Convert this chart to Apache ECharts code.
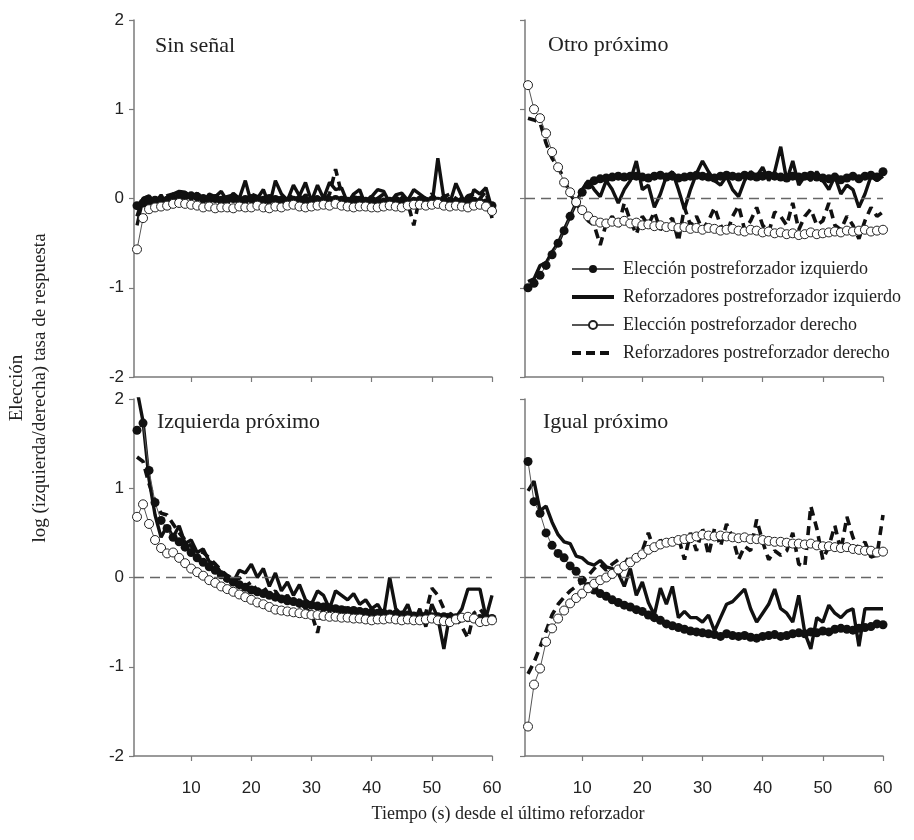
<!DOCTYPE html>
<html><head><meta charset="utf-8">
<script src="https://cdn.jsdelivr.net/npm/echarts@6/dist/echarts.min.js"></script>
<style>html,body{margin:0;padding:0;background:#fff}#c{width:914px;height:840px}</style>
</head><body><div id="c"></div>
<script>
// Time bins (s)
var tiempo = [1,2,3,4,5,6,7,8,9,10,11,12,13,14,15,16,17,18,19,20,21,22,23,24,25,26,27,28,29,30,
31,32,33,34,35,36,37,38,39,40,41,42,43,44,45,46,47,48,49,50,51,52,53,54,55,56,57,58,59,60];
var xTicks = [10,20,30,40,50,60];
var yTicks = [-2,-1,0,1,2];
var panelTitles = ['Sin señal','Otro próximo','Izquierda próximo','Igual próximo'];
var seriesNames = ['Elección postreforzador izquierdo','Reforzadores postreforzador izquierdo','Elección postreforzador derecho','Reforzadores postreforzador derecho'];

// Sin señal
var ss_eI = [-0.08,-0.05,-0.03,-0.02,-0.03,-0.02,0.0,0.02,0.03,0.03,
0.02,0.0,-0.01,0.0,-0.02,-0.01,0.0,-0.02,-0.01,0.0,
-0.01,-0.02,0.0,-0.01,-0.02,-0.03,-0.02,-0.01,-0.02,-0.03,
-0.02,-0.03,-0.02,-0.01,-0.02,-0.03,-0.03,-0.02,-0.03,-0.02,
-0.03,-0.04,-0.03,-0.02,-0.03,-0.04,-0.03,-0.02,-0.03,-0.02,
-0.03,-0.02,-0.03,-0.04,-0.03,-0.02,-0.03,-0.04,-0.05,-0.08];
var ss_rI = [-0.3,0.0,0.03,-0.05,0.04,-0.08,0.05,0.08,0.07,0.02,
0.06,-0.05,0.05,0.02,0.08,-0.03,0.06,0.0,0.2,-0.05,
0.0,0.1,-0.08,0.2,0.05,-0.02,0.15,0.03,0.18,-0.03,
0.15,0.0,0.18,0.1,0.12,-0.05,0.05,0.1,-0.08,0.02,
0.1,0.08,-0.05,0.04,0.06,-0.02,0.1,0.05,0.0,-0.08,
0.45,0.0,-0.05,0.17,0.02,-0.1,0.1,0.05,0.12,-0.12];
var ss_eD = [-0.57,-0.22,-0.12,-0.1,-0.09,-0.08,-0.06,-0.05,-0.06,-0.07,
-0.08,-0.1,-0.09,-0.11,-0.1,-0.1,-0.11,-0.09,-0.1,-0.1,
-0.08,-0.1,-0.11,-0.09,-0.1,-0.08,-0.07,-0.09,-0.1,-0.09,
-0.08,-0.07,-0.08,-0.06,-0.08,-0.09,-0.1,-0.09,-0.09,-0.1,
-0.1,-0.09,-0.08,-0.09,-0.1,-0.08,-0.07,-0.07,-0.08,-0.07,
-0.06,-0.08,-0.09,-0.08,-0.09,-0.1,-0.08,-0.07,-0.09,-0.14];
var ss_rD = [-0.2,0.0,0.02,-0.03,0.0,0.03,0.05,0.02,-0.04,0.0,
0.05,-0.02,0.03,0.0,-0.05,0.02,0.04,-0.03,0.0,0.05,
0.02,-0.04,0.0,0.03,-0.02,0.05,0.0,-0.03,0.04,0.0,
0.02,-0.03,0.05,0.33,0.05,-0.05,0.02,0.0,-0.04,0.03,
0.0,0.05,-0.02,0.0,0.04,-0.05,-0.3,0.02,0.0,0.05,
-0.03,0.02,0.05,0.0,-0.04,0.03,0.05,0.0,0.08,-0.22];

// Otro próximo
var op_eI = [-1.0,-0.95,-0.86,-0.75,-0.63,-0.5,-0.36,-0.2,-0.05,0.07,
0.15,0.2,0.22,0.23,0.24,0.25,0.24,0.25,0.25,0.24,
0.23,0.25,0.26,0.24,0.25,0.23,0.24,0.25,0.26,0.25,
0.24,0.23,0.25,0.26,0.25,0.24,0.26,0.25,0.24,0.25,
0.26,0.25,0.24,0.23,0.25,0.24,0.25,0.26,0.24,0.23,
0.22,0.24,0.21,0.23,0.25,0.22,0.25,0.26,0.24,0.3];
var op_rI = [-0.93,-0.9,-0.75,-0.72,-0.6,-0.5,-0.35,-0.2,-0.05,0.1,
0.2,0.1,0.02,0.2,0.1,-0.05,0.1,0.2,0.42,0.1,
0.15,-0.1,0.05,0.25,0.3,0.1,-0.12,0.1,0.28,0.42,
0.3,0.2,0.15,0.25,0.1,0.02,0.2,0.3,0.25,0.35,
0.2,0.3,0.58,0.2,0.42,0.15,0.25,0.2,0.3,0.2,
0.1,0.25,0.05,0.15,0.1,-0.1,0.05,0.25,0.2,0.25];
var op_eD = [1.27,1.0,0.9,0.73,0.52,0.35,0.18,0.07,-0.04,-0.13,
-0.2,-0.25,-0.27,-0.28,-0.26,-0.27,-0.25,-0.28,-0.27,-0.3,
-0.29,-0.31,-0.3,-0.32,-0.31,-0.33,-0.32,-0.34,-0.33,-0.35,
-0.33,-0.34,-0.36,-0.35,-0.34,-0.36,-0.37,-0.35,-0.36,-0.38,
-0.37,-0.39,-0.38,-0.4,-0.39,-0.41,-0.4,-0.38,-0.4,-0.39,
-0.38,-0.37,-0.38,-0.36,-0.37,-0.36,-0.35,-0.37,-0.36,-0.35];
var op_rD = [0.9,0.88,0.85,0.62,0.45,0.35,0.22,0.05,-0.05,-0.15,
-0.25,-0.3,-0.52,-0.28,-0.2,-0.32,-0.05,-0.25,-0.4,-0.2,
-0.3,-0.15,-0.35,-0.28,-0.22,-0.48,-0.1,-0.3,-0.2,-0.35,
-0.25,-0.1,-0.3,-0.4,-0.2,-0.08,-0.35,-0.25,-0.1,-0.3,
-0.38,-0.15,-0.2,-0.3,-0.05,-0.35,-0.2,-0.12,-0.3,-0.25,
-0.05,-0.3,-0.35,-0.2,-0.3,-0.45,-0.25,-0.1,-0.2,-0.15];

// Izquierda próximo
var iz_eI = [1.65,1.73,1.2,0.84,0.64,0.55,0.45,0.4,0.34,0.28,
0.22,0.17,0.12,0.08,0.03,-0.01,-0.05,-0.08,-0.11,-0.14,
-0.16,-0.18,-0.2,-0.22,-0.24,-0.26,-0.27,-0.29,-0.3,-0.31,
-0.32,-0.33,-0.34,-0.35,-0.36,-0.37,-0.37,-0.38,-0.39,-0.39,
-0.4,-0.4,-0.41,-0.41,-0.42,-0.42,-0.43,-0.43,-0.43,-0.44,
-0.44,-0.44,-0.45,-0.45,-0.45,-0.45,-0.46,-0.46,-0.45,-0.46];
var iz_rI = [2.1,1.75,1.1,0.7,0.45,0.58,0.45,0.58,0.38,0.42,
0.28,0.32,0.18,0.15,0.05,0.02,-0.05,0.08,0.05,0.15,
0.0,0.1,-0.1,0.05,-0.15,-0.05,-0.2,-0.08,-0.25,-0.3,
-0.15,-0.2,-0.35,-0.15,-0.2,-0.25,-0.18,-0.3,-0.25,-0.35,
-0.3,-0.42,0.0,-0.35,-0.42,-0.3,-0.5,-0.35,-0.55,-0.3,
-0.45,-0.8,-0.4,-0.45,-0.35,-0.13,-0.13,-0.13,-0.45,-0.2];
var iz_eD = [0.68,0.82,0.6,0.42,0.33,0.27,0.28,0.22,0.16,0.1,
0.06,0.02,-0.03,-0.06,-0.1,-0.13,-0.16,-0.19,-0.22,-0.25,
-0.28,-0.3,-0.33,-0.36,-0.37,-0.38,-0.39,-0.4,-0.41,-0.42,
-0.42,-0.43,-0.44,-0.44,-0.45,-0.45,-0.46,-0.46,-0.47,-0.48,
-0.47,-0.47,-0.46,-0.47,-0.48,-0.47,-0.48,-0.48,-0.47,-0.46,
-0.48,-0.49,-0.5,-0.47,-0.45,-0.44,-0.46,-0.5,-0.49,-0.48];
var iz_rD = [1.35,1.3,1.05,0.85,0.72,0.7,0.6,0.5,0.42,0.35,
0.3,0.28,0.22,0.15,0.08,0.02,-0.05,0.0,-0.1,-0.05,
-0.15,-0.1,-0.2,-0.15,-0.25,-0.2,-0.3,-0.25,-0.35,-0.4,
-0.62,-0.3,-0.35,-0.4,-0.3,-0.38,-0.42,-0.35,-0.4,-0.45,
-0.38,-0.42,-0.4,-0.45,-0.5,-0.4,-0.45,-0.5,-0.4,-0.12,
-0.2,-0.35,-0.5,-0.45,-0.55,-0.68,-0.4,-0.35,-0.45,-0.5];

// Igual próximo
var ig_eI = [1.3,0.85,0.72,0.5,0.36,0.27,0.22,0.13,0.07,-0.03,
-0.1,-0.14,-0.18,-0.21,-0.25,-0.28,-0.31,-0.33,-0.36,-0.38,
-0.42,-0.45,-0.48,-0.52,-0.54,-0.56,-0.58,-0.6,-0.61,-0.62,
-0.63,-0.64,-0.66,-0.63,-0.65,-0.66,-0.65,-0.67,-0.68,-0.66,
-0.65,-0.64,-0.66,-0.65,-0.63,-0.62,-0.63,-0.61,-0.62,-0.6,
-0.61,-0.58,-0.57,-0.58,-0.59,-0.57,-0.56,-0.55,-0.52,-0.53];
var ig_rI = [0.97,1.08,0.75,0.8,0.62,0.48,0.4,0.38,0.24,0.22,
0.16,0.14,0.19,0.12,0.1,0.05,-0.1,0.1,-0.2,-0.05,
-0.28,-0.42,-0.12,-0.3,-0.1,-0.45,-0.38,-0.45,-0.45,-0.5,
-0.42,-0.6,-0.45,-0.3,-0.27,-0.2,-0.13,-0.35,-0.5,-0.4,
-0.3,-0.13,-0.35,-0.4,-0.5,-0.2,-0.62,-0.8,-0.45,-0.5,
-0.31,-0.4,-0.45,-0.38,-0.35,-0.77,-0.35,-0.35,-0.35,-0.35];
var ig_eD = [-1.67,-1.2,-1.02,-0.72,-0.57,-0.46,-0.37,-0.29,-0.23,-0.18,
-0.12,-0.07,-0.03,0.0,0.04,0.09,0.13,0.17,0.22,0.26,
0.31,0.34,0.37,0.39,0.4,0.42,0.43,0.44,0.46,0.48,
0.47,0.46,0.47,0.46,0.45,0.44,0.45,0.43,0.43,0.42,
0.41,0.4,0.4,0.39,0.38,0.38,0.37,0.38,0.36,0.35,
0.35,0.34,0.33,0.34,0.32,0.31,0.3,0.3,0.28,0.29];
var ig_rD = [-1.08,-0.95,-0.78,-0.6,-0.42,-0.3,-0.22,-0.15,-0.1,-0.05,
0.02,0.1,0.15,0.08,0.15,0.2,0.15,0.25,0.22,0.3,
0.5,0.3,0.42,0.35,0.4,0.45,0.2,0.5,0.3,0.55,
0.25,0.55,0.35,0.6,0.45,0.2,0.35,0.3,0.65,0.4,
0.2,0.3,0.25,0.3,0.5,0.15,0.12,0.8,0.55,0.2,
0.35,0.58,0.3,0.68,0.45,0.3,0.4,0.23,0.25,0.7];

var panels = [
  [ss_eI, ss_rI, ss_eD, ss_rD],
  [op_eI, op_rI, op_eD, op_rD],
  [iz_eI, iz_rI, iz_eD, iz_rD],
  [ig_eI, ig_rI, ig_eD, ig_rD]
];
var zeroLine = [false, true, true, true];

var chart = echarts.init(document.getElementById('c'), null, {renderer: 'canvas'});
var gridPos = [
  {left: 134, top: 20, width: 358, height: 357},
  {left: 525, top: 20, width: 358, height: 357},
  {left: 134, top: 399, width: 358, height: 357},
  {left: 525, top: 399, width: 358, height: 357}
];
var axisCol = '#7a7a7a';
var grids = [], xAxes = [], yAxes = [], series = [], titles = [];
var titlePos = [[155, 35], [548, 34], [157, 411], [543, 411]];
function pairs(v) { return tiempo.map(function (t, i) { return [t, v[i]]; }); }

for (var p = 0; p < 4; p++) {
  grids.push(gridPos[p]);
  var bottom = p >= 2, leftCol = (p % 2 === 0);
  xAxes.push({
    type: 'value', gridIndex: p, min: 0.5, max: 60,
    axisLine: {show: true, onZero: false, lineStyle: {color: axisCol, width: 1.5}},
    axisTick: {show: true, length: 5, customValues: xTicks, lineStyle: {color: axisCol, width: 1.2}},
    axisLabel: {show: bottom, customValues: xTicks, margin: 24, fontFamily: 'Liberation Sans', fontSize: 17, color: '#222'},
    splitLine: {show: false}
  });
  yAxes.push({
    type: 'value', gridIndex: p, min: -2, max: 2, interval: 1,
    axisLine: {show: true, onZero: false, lineStyle: {color: axisCol, width: 1.5}},
    axisTick: {show: true, length: 5, lineStyle: {color: axisCol, width: 1.2}},
    axisLabel: {show: leftCol, margin: 10, fontFamily: 'Liberation Sans', fontSize: 17, color: '#222'},
    splitLine: {show: false}
  });
  titles.push({text: panelTitles[p], left: titlePos[p][0], top: titlePos[p][1], padding: 0,
    textStyle: {fontFamily: 'Liberation Serif', fontSize: 22, fontWeight: 'normal', color: '#222'}});
  var d = panels[p];
  series.push({
    name: seriesNames[1], type: 'line', xAxisIndex: p, yAxisIndex: p, data: pairs(d[1]),
    showSymbol: false, symbol: 'none', lineStyle: {color: '#111', width: 3.4}, itemStyle: {color: '#111'},
    z: 2, animation: false,
    markLine: zeroLine[p] ? {silent: true, symbol: 'none', label: {show: false},
      lineStyle: {color: '#666', type: [10, 6], width: 1.3}, data: [{yAxis: 0}]} : undefined
  });
  series.push({
    name: seriesNames[3], type: 'line', xAxisIndex: p, yAxisIndex: p, data: pairs(d[3]),
    showSymbol: false, symbol: 'none', lineStyle: {color: '#111', width: 3.6, type: [9, 6]}, itemStyle: {color: '#111'},
    z: 3, animation: false
  });
  series.push({
    name: seriesNames[0], type: 'line', xAxisIndex: p, yAxisIndex: p, data: pairs(d[0]),
    symbol: 'circle', symbolSize: 9, showAllSymbol: true,
    lineStyle: {color: '#555', width: 1}, itemStyle: {color: '#111', borderColor: '#111', borderWidth: 0},
    z: 4, animation: false
  });
  series.push({
    name: seriesNames[2], type: 'line', xAxisIndex: p, yAxisIndex: p, data: pairs(d[2]),
    symbol: 'circle', symbolSize: 9, showAllSymbol: true,
    lineStyle: {color: '#555', width: 1}, itemStyle: {color: '#fff', borderColor: '#222', borderWidth: 1},
    z: 5, animation: false
  });
}

var option = {
  animation: false,
  backgroundColor: '#fff',
  title: titles,
  grid: grids,
  xAxis: xAxes,
  yAxis: yAxes,
  legend: {
    orient: 'vertical', left: 570, top: 260, padding: 0, itemWidth: 42, itemHeight: 10, itemGap: 10,
    data: [
      {name: seriesNames[0]},
      {name: seriesNames[1], itemStyle: {opacity: 0}, lineStyle: {width: 4, color: '#111'}},
      {name: seriesNames[2]},
      {name: seriesNames[3], itemStyle: {opacity: 0}, lineStyle: {width: 4, color: '#111', type: [9, 5]}}
    ],
    textStyle: {fontFamily: 'Liberation Serif', fontSize: 18, color: '#222', padding: [0, 0, 0, 4]}
  },
  graphic: [
    {type: 'text', x: 17, y: 388, rotation: Math.PI / 2,
      style: {text: 'Elección', font: '19px "Liberation Serif"', fill: '#222', textAlign: 'center', textVerticalAlign: 'middle'}},
    {type: 'text', x: 40, y: 388, rotation: Math.PI / 2,
      style: {text: 'log (izquierda/derecha) tasa de respuesta', font: '19px "Liberation Serif"', fill: '#222', textAlign: 'center', textVerticalAlign: 'middle'}},
    {type: 'text', x: 508, y: 814,
      style: {text: 'Tiempo (s) desde el último reforzador', font: '18px "Liberation Serif"', fill: '#222', textAlign: 'center', textVerticalAlign: 'middle'}}
  ],
  series: series
};
chart.setOption(option);
</script>
</body></html>
